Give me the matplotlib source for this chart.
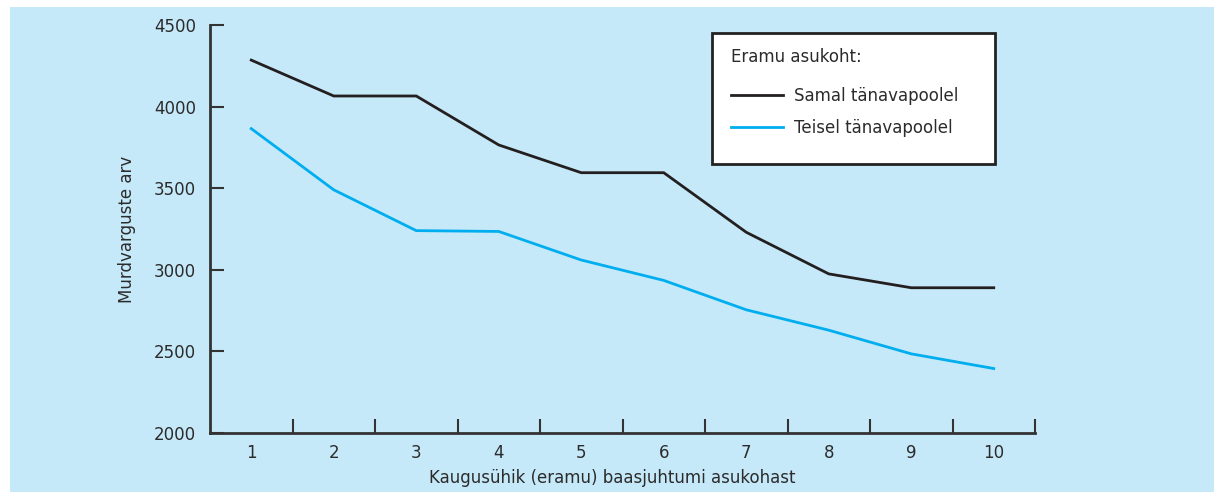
import matplotlib
matplotlib.use("Agg")
import matplotlib.pyplot as plt
from matplotlib.patches import Rectangle
from matplotlib.ticker import FixedLocator, NullFormatter

# data
distance = [1, 2, 3, 4, 5, 6, 7, 8, 9, 10]
same_side = [4285, 4065, 4065, 3765, 3595, 3595, 3230, 2975, 2890, 2890]
other_side = [3865, 3490, 3240, 3235, 3060, 2935, 2755, 2630, 2485, 2395]
series_names = ["Samal tänavapoolel", "Teisel tänavapoolel"]
legend_title = "Eramu asukoht:"
x_label = "Kaugusühik (eramu) baasjuhtumi asukohast"
y_label = "Murdvarguste arv"
y_ticks = [2000, 2500, 3000, 3500, 4000, 4500]

BG = "#c6e9f9"
TXT = "#2b2b2b"
BLACK = "#231f20"
BLUE = "#00aeef"
W, H = 1214, 492

plt.rcParams["font.family"] = ["DejaVu Sans"]
FS = 12

fig = plt.figure(figsize=(W / 100, H / 100), dpi=100)
fig.patch.set_facecolor("white")
fig.patches.append(Rectangle((10 / W, 0), 1 - 10 / W, 1 - 7 / H, transform=fig.transFigure,
                             facecolor=BG, edgecolor="none", zorder=-10))

ax = fig.add_axes([210 / W, 1 - 433 / H, (1035 - 210) / W, (433 - 25) / H])
ax.set_facecolor("none")

l1, = ax.plot(distance, same_side, color=BLACK, lw=2, solid_joinstyle="miter")
l2, = ax.plot(distance, other_side, color=BLUE, lw=2, solid_joinstyle="miter")

ax.set_xlim(0.5, 10.5)
ax.set_ylim(2000, 4500)
ax.set_xticks(distance)
ax.xaxis.set_minor_locator(FixedLocator([d + 0.5 for d in distance]))
ax.xaxis.set_minor_formatter(NullFormatter())
ax.set_yticks(y_ticks)

for s in ["top", "right"]:
    ax.spines[s].set_visible(False)
for s in ["left", "bottom"]:
    ax.spines[s].set_color("#333333")
    ax.spines[s].set_linewidth(2)

ax.tick_params(axis="x", which="major", length=0, pad=8, labelcolor=TXT, labelsize=FS)
ax.tick_params(axis="x", which="minor", direction="in", length=10, width=1.5, color="#333333")
ax.tick_params(axis="y", direction="in", length=10, width=1.5, color="#333333",
               pad=10, labelcolor=TXT, labelsize=FS)

ax.set_xlabel(x_label, color=TXT, fontsize=FS)
ax.xaxis.set_label_coords((612 - 210) / 825, -(478 - 433) / 408)
ax.xaxis.label.set_va("center")
ax.set_ylabel(y_label, color=TXT, fontsize=FS)
ax.yaxis.set_label_coords(-(210 - 127) / 825, 0.5)
ax.yaxis.label.set_va("center")

# legend box
fig.patches.append(Rectangle((712 / W, 1 - 164 / H), (995 - 712) / W, (164 - 33) / H,
                             transform=fig.transFigure, facecolor="white",
                             edgecolor="#222222", linewidth=2, zorder=5))
fig.text(731 / W, 1 - 57 / H, legend_title, ha="left", va="center", color=TXT,
         fontsize=FS, zorder=6)
leg = fig.legend([l1, l2], series_names, frameon=False, loc="upper left",
                 bbox_to_anchor=(731 / W, 1 - 87 / H), bbox_transform=fig.transFigure,
                 fontsize=FS, handlelength=3.1, handletextpad=0.7, labelspacing=0.83,
                 borderpad=0, borderaxespad=0)
leg.set_zorder(7)
for t in leg.get_texts():
    t.set_color(TXT)

fig.savefig("out.png", dpi=100)
